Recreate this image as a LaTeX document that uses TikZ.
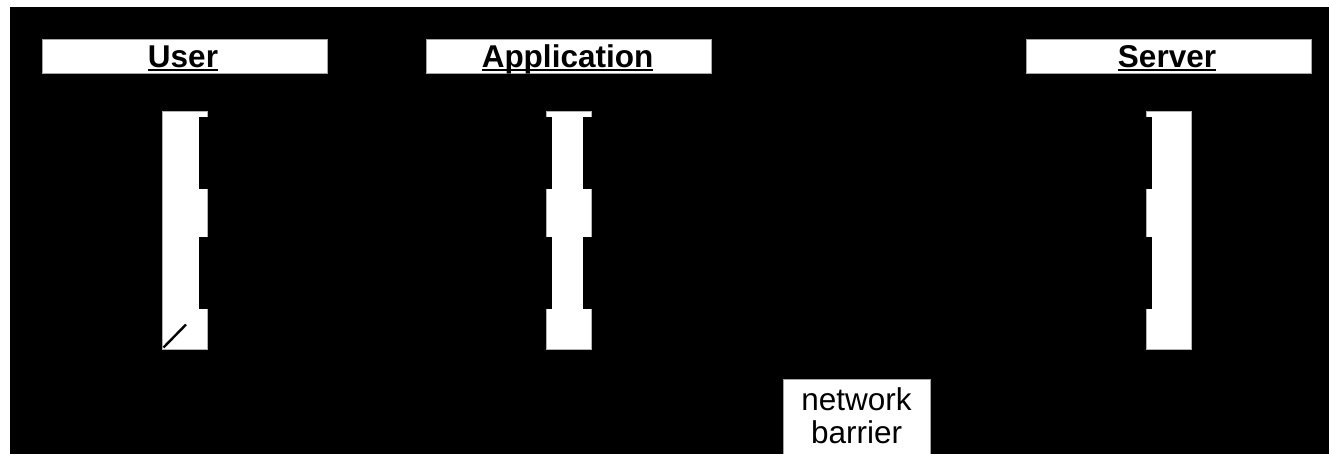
\documentclass[tikz,border=0pt]{standalone}
\usepackage{fontspec}
\setmainfont{Liberation Sans}
\newcommand{\myul}[1]{\setbox0\hbox{#1}\rlap{\rule[-2.6pt]{\wd0}{1.6pt}}\box0}
\begin{document}
\begin{tikzpicture}[x=1pt,y=-1pt,
  headbox/.style={draw=gray!70, line width=0.9pt, fill=white, minimum width=285pt, minimum height=34pt, inner sep=0pt, outer sep=0pt},
  headtext/.style={anchor=base, inner sep=0pt, font=\bfseries\fontsize{31.5}{33}\selectfont},
  barbox/.style={draw=gray!60, line width=0.8pt, fill=white, minimum width=45pt, minimum height=238pt, inner sep=0pt, outer sep=0pt},
  cut/.style={fill=black},
  barrierbox/.style={draw=gray!70, line width=0.9pt, fill=white, minimum width=147pt, inner xsep=0pt, inner ysep=8.4pt, align=center, anchor=north, font=\fontsize{31.5}{33}\selectfont}
]
\useasboundingbox (0,0) rectangle (1329,454);
\fill[white] (0,0) rectangle (1329,454);
\fill[black] (10,7) rectangle (1340,470);

% lifeline heads
\node[headbox] (userhead) at (184.5,56) {};
\node[headtext] (usertxt) at (183,68) {\myul{User}};
\node[headbox] (apphead) at (569,56) {};
\node[headtext] (apptxt) at (567.5,68) {\myul{Application}};
\node[headbox] (srvhead) at (1168.5,56) {};
\node[headtext] (srvtxt) at (1167,68) {\myul{Server}};

% activation bars
\node[barbox] (ubar) at (184.5,230) {};
\node[barbox] (abar) at (569,230) {};
\node[barbox] (sbar) at (1168.5,230) {};

% black overlaps on the bars
\fill[cut] (199,117) rectangle (212,189);
\fill[cut] (199,237) rectangle (212,309);
\fill[cut] (543,117) rectangle (552,189);
\fill[cut] (583,117) rectangle (596,189);
\fill[cut] (543,237) rectangle (552,309);
\fill[cut] (583,237) rectangle (596,309);
\fill[cut] (1142,117) rectangle (1152,189);
\fill[cut] (1142,237) rectangle (1152,309);

% small diagonal stroke on the user bar
\coordinate (diagA) at (163.5,347.5);
\coordinate (diagB) at (186,324.5);
\draw[black, line width=2.4pt] (diagA) -- (diagB);

% network barrier
\node[barrierbox] (barrier) at (856.5,379) {network\\barrier\rule[-30pt]{0pt}{30pt}};
\end{tikzpicture}
\end{document}
